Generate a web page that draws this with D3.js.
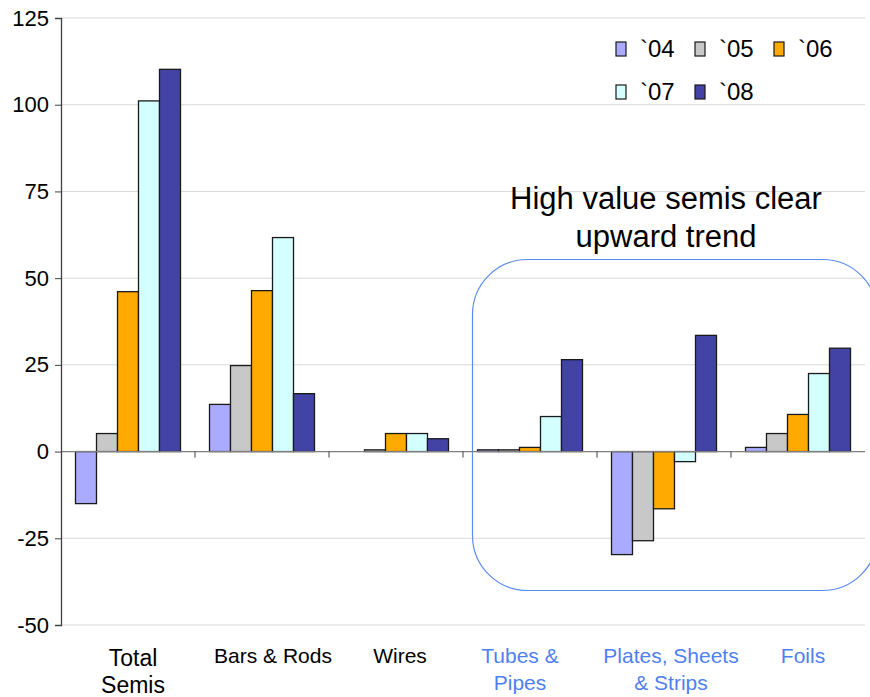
<!DOCTYPE html>
<html>
<head>
<meta charset="utf-8">
<script src="https://cdn.jsdelivr.net/npm/d3@7"></script>
<style>
  body { margin: 0; background: #fff; }
  svg { display: block; font-family: "Liberation Sans", Arial, sans-serif; }
</style>
</head>
<body>
<svg id="chart" width="870" height="697"></svg>
<script>
const categories = ['Total Semis', 'Bars & Rods', 'Wires', 'Tubes & Pipes', 'Plates, Sheets & Strips', 'Foils'];
const categoryLines = [['Total', 'Semis'], ['Bars & Rods'], ['Wires'], ['Tubes &', 'Pipes'], ['Plates, Sheets', '& Strips'], ['Foils']];
const highlighted = [false, false, false, true, true, true];
const years = ['`04', '`05', '`06', '`07', '`08'];
const yearColors = ['#aaaaff', '#c8c8c8', '#ffaa00', '#d4ffff', '#4343a6'];

const y04 = [-15, 13.6, 0, 0.5, -29.7, 1.2];
const y05 = [5.2, 24.8, 0.5, 0.5, -25.7, 5.2];
const y06 = [46.1, 46.4, 5.2, 1.2, -16.5, 10.7];
const y07 = [101.1, 61.7, 5.2, 10.1, -2.9, 22.5];
const y08 = [110.2, 16.7, 3.7, 26.5, 33.5, 29.8];
const seriesValues = [y04, y05, y06, y07, y08];

const yTicks = [-50, -25, 0, 25, 50, 75, 100, 125];
const calloutLines = ['High value semis clear', 'upward trend'];

const svg = d3.select('#chart');
const plotLeft = 61, plotRight = 865, plotTop = 18, plotBottom = 625;

const x = d3.scaleBand()
  .domain(categories)
  .range([plotLeft, plotRight]);
const xInner = d3.scaleBand()
  .domain(years)
  .range([14.5, x.bandwidth() - 14.5]);
const y = d3.scaleLinear()
  .domain([-50, 125])
  .range([plotBottom, plotTop]);

// gridlines
svg.append('g')
  .selectAll('line')
  .data(yTicks.filter((t) => t !== 0))
  .enter()
    .append('line')
    .attr('x1', plotLeft)
    .attr('x2', plotRight)
    .attr('y1', (d) => y(d))
    .attr('y2', (d) => y(d))
    .attr('stroke', '#d9d9d9')
    .attr('stroke-width', 1);

// callout box
svg.append('rect')
  .attr('x', 472.5)
  .attr('y', 259.5)
  .attr('width', 405)
  .attr('height', 331)
  .attr('rx', 55)
  .attr('ry', 55)
  .attr('fill', 'none')
  .attr('stroke', '#5b8def')
  .attr('stroke-width', 1.2);

svg.append('g')
  .selectAll('text')
  .data(calloutLines)
  .enter()
    .append('text')
    .attr('x', 666)
    .attr('y', (d, i) => 209 + i * 38)
    .attr('text-anchor', 'middle')
    .attr('font-size', 31)
    .attr('fill', '#000')
    .text((d) => d);

// bars
const barData = [];
categories.forEach((c, ci) => {
  years.forEach((yr, si) => {
    barData.push({ category: c, year: yr, value: seriesValues[si][ci], color: yearColors[si] });
  });
});

svg.append('g')
  .selectAll('rect')
  .data(barData)
  .enter()
    .append('rect')
    .attr('x', (d) => x(d.category) + xInner(d.year))
    .attr('width', xInner.bandwidth())
    .attr('y', (d) => y(Math.max(0, d.value)))
    .attr('height', (d) => Math.abs(y(d.value) - y(0)))
    .attr('fill', (d) => d.color)
    .attr('stroke', '#1a1a1a')
    .attr('stroke-width', 1.3);

// zero line
svg.append('line')
  .attr('x1', plotLeft)
  .attr('x2', plotRight)
  .attr('y1', y(0))
  .attr('y2', y(0))
  .attr('stroke', '#808080')
  .attr('stroke-width', 1.3);

// category boundary ticks
svg.append('g')
  .selectAll('line')
  .data(categories.slice(0, -1))
  .enter()
    .append('line')
    .attr('x1', (d) => x(d) + x.bandwidth())
    .attr('x2', (d) => x(d) + x.bandwidth())
    .attr('y1', y(0))
    .attr('y2', y(0) + 6)
    .attr('stroke', '#404040')
    .attr('stroke-width', 1);

// y axis
const yAxis = svg.append('g')
  .attr('transform', `translate(${plotLeft},0)`)
  .call(d3.axisLeft(y).tickValues(yTicks).tickSize(6).tickPadding(6).tickFormat((d) => String(d)));
yAxis.select('.domain').attr('stroke', '#404040').attr('stroke-width', 1.3);
yAxis.selectAll('.tick line').attr('stroke', '#404040');
yAxis.selectAll('.tick text')
  .attr('font-size', 22)
  .attr('font-family', '"Liberation Sans", Arial, sans-serif')
  .attr('fill', '#000');

// x labels (text boxes sit a little off the category centres in the original)
const labelShift = [5, 11, 4, -10, 7, 5];
const xLabels = svg.append('g')
  .selectAll('text')
  .data(categories)
  .enter()
    .append('text')
    .attr('text-anchor', 'middle')
    .attr('font-size', (d, i) => i === 0 ? 23 : 21)
    .attr('fill', (d, i) => highlighted[i] ? '#4f7ff0' : '#000');
xLabels.selectAll('tspan')
  .data((d, i) => categoryLines[i].map((line) => ({ line, category: d, ci: i })))
  .enter()
    .append('tspan')
    .attr('x', (d) => x(d.category) + x.bandwidth() / 2 + labelShift[d.ci])
    .attr('y', (d, i) => (d.ci === 0 ? 666 : 663) + i * 27)
    .text((d) => d.line);

// legend
const legend = svg.append('g')
  .selectAll('g')
  .data(years)
  .enter()
    .append('g')
    .attr('transform', (d, i) => `translate(${616 + (i % 3) * 79},${42 + Math.floor(i / 3) * 43})`);
legend.append('rect')
  .attr('width', 10)
  .attr('height', 14)
  .attr('fill', (d, i) => yearColors[i])
  .attr('stroke', '#1a1a1a')
  .attr('stroke-width', 1.2);
legend.append('text')
  .attr('x', 24)
  .attr('y', 15)
  .attr('font-size', 24)
  .attr('fill', '#000')
  .text((d) => d);
</script>
</body>
</html>
